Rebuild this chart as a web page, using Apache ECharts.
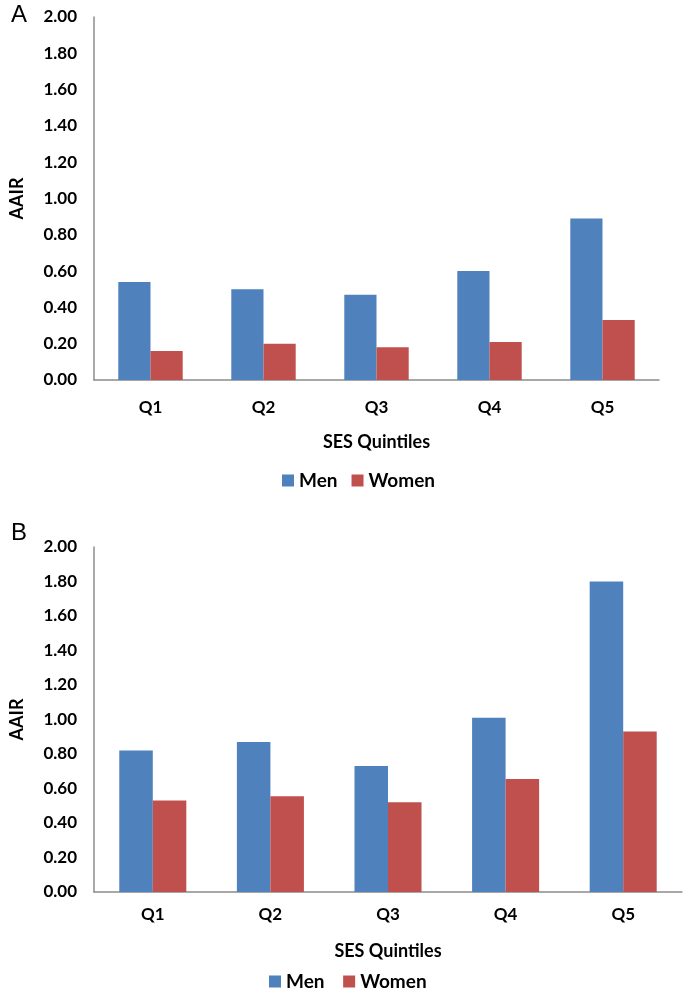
<!DOCTYPE html>
<html><head><meta charset="utf-8">
<script src="https://cdn.jsdelivr.net/npm/echarts@6/dist/echarts.min.js"></script>
<style>html,body{margin:0;padding:0;background:#fff}#c{width:685px;height:990px}</style>
</head><body><div id="c"></div>
<script>
const categories = ['Q1','Q2','Q3','Q4','Q5'];
const menA = [0.54, 0.50, 0.47, 0.60, 0.89];
const womenA = [0.16, 0.20, 0.18, 0.21, 0.33];
const menB = [0.82, 0.87, 0.73, 1.01, 1.80];
const womenB = [0.53, 0.555, 0.52, 0.655, 0.93];
const yTicks = ['0.00','0.20','0.40','0.60','0.80','1.00','1.20','1.40','1.60','1.80','2.00'];

const FONT = 'Lato';
const BLUE = '#4F81BD', RED = '#C0504D', AX = '#8c8c8c';
const chart = echarts.init(document.getElementById('c'));

function xAx(gi, margin, nameGap){
  return {type:'category', gridIndex:gi, data:categories,
    axisLine:{lineStyle:{color:AX, width:1.5}}, axisTick:{show:false},
    axisLabel:{margin:margin, color:'#000', fontFamily:FONT, fontWeight:'bold', fontSize:17},
    name:'SES Quintiles', nameLocation:'middle', nameGap:nameGap,
    nameTextStyle:{color:'#000', fontFamily:FONT, fontWeight:'bold', fontSize:18}};
}
function yAx(gi){
  return {type:'value', gridIndex:gi, min:0, max:2, interval:0.2,
    splitLine:{show:false}, axisTick:{show:false},
    axisLine:{show:true, lineStyle:{color:AX, width:1.5}},
    axisLabel:{margin:17, color:'#000', fontFamily:FONT, fontWeight:'bold', fontSize:17,
      formatter:(v)=>yTicks[Math.round(v/0.2)]},
    name:'AAIR', nameLocation:'middle', nameGap:68, nameRotate:90,
    nameTextStyle:{color:'#000', fontFamily:FONT, fontWeight:'bold', fontSize:18}};
}
function bars(name, data, color, gi){
  return {name:name, type:'bar', xAxisIndex:gi, yAxisIndex:gi, data:data,
    itemStyle:{color:color}, barGap:'0%', barCategoryGap:'43%', silent:true};
}
const legendText = {fontFamily:FONT, fontWeight:'bold', fontSize:19, color:'#000'};

chart.setOption({
  animation:false,
  textStyle:{fontFamily:FONT},
  title:[
    {text:'A', left:6, top:-2, textStyle:{fontFamily:'Liberation Sans', fontWeight:'normal', fontSize:24, color:'#000'}},
    {text:'B', left:6, top:516, textStyle:{fontFamily:'Liberation Sans', fontWeight:'normal', fontSize:24, color:'#000'}}
  ],
  grid:[
    {left:92, top:17, width:567, height:363},
    {left:87, top:547, width:595, height:345}
  ],
  xAxis:[xAx(0, 19, 53), xAx(1, 14, 50)],
  yAxis:[yAx(0), yAx(1)],
  legend:[
    {top:466, left:277, itemWidth:12, itemHeight:12, itemGap:14, icon:'rect',
     data:['Men','Women'], textStyle:legendText},
    {top:967, left:264, itemWidth:12, itemHeight:12, itemGap:14, icon:'rect',
     data:['Men ','Women '], textStyle:legendText}
  ],
  series:[
    bars('Men', menA, BLUE, 0), bars('Women', womenA, RED, 0),
    bars('Men ', menB, BLUE, 1), bars('Women ', womenB, RED, 1)
  ]
});
</script></body></html>
